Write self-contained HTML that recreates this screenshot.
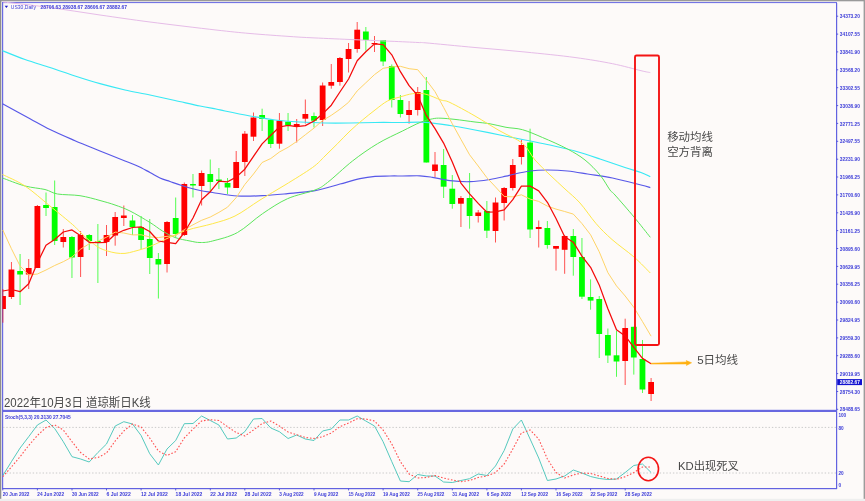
<!DOCTYPE html>
<html><head><meta charset="utf-8"><title>US30 Daily</title>
<style>
html,body{margin:0;padding:0;background:#fdfaf9;}
body{width:865px;height:501px;overflow:hidden;position:relative;}
svg{position:absolute;left:0;top:0;display:block;}
.ax{font-family:"Liberation Sans","DejaVu Sans",sans-serif;font-size:6px;font-weight:bold;fill:#3c3cd8;}
.cn{font-family:"Liberation Sans","Noto Sans CJK SC","WenQuanYi Zen Hei",sans-serif;fill:#484848;}
</style></head><body>
<svg width="865" height="501" viewBox="0 0 865 501">
<rect x="0" y="0" width="865" height="501" fill="#fdfaf9"/>
<!-- outer window edges -->
<rect x="0" y="0" width="865" height="1.3" fill="#9a9a9a"/>
<rect x="0" y="0" width="1.3" height="499" fill="#8e8e8e"/>
<rect x="863.6" y="0" width="1.4" height="499" fill="#9c9c9c"/>
<rect x="0" y="498.8" width="865" height="2.2" fill="#efefef"/>
<!-- chart frame -->
<rect x="2" y="2" width="835" height="1.1" fill="#7474e4"/>
<rect x="2" y="2" width="1.2" height="487" fill="#6a6ae2"/>
<rect x="836" y="3" width="1.2" height="486" fill="#6262e0"/>
<rect x="2" y="409.8" width="835" height="2.2" fill="#6868e0"/>
<rect x="2" y="488" width="835" height="1.2" fill="#6262e0"/>
<!-- stoch levels -->
<line x1="3" x2="836" y1="427.4" y2="427.4" stroke="#cacaca" stroke-width="1" stroke-dasharray="1.4 1.9"/>
<line x1="3" x2="836" y1="473" y2="473" stroke="#cacaca" stroke-width="1" stroke-dasharray="1.4 1.9"/>
<g id="candles">
<line x1="2.9" x2="2.9" y1="289.0" y2="322.7" stroke="#ff0000" stroke-width="0.9" opacity="0.7"/>
<rect x="2.6" y="296.0" width="3.3" height="13.0" fill="#ff0000"/>
<line x1="11.44" x2="11.44" y1="262.0" y2="299.0" stroke="#ff0000" stroke-width="0.9" opacity="0.75"/>
<rect x="8.54" y="269.5" width="5.8" height="27.5" fill="#ff0000"/>
<line x1="20.09" x2="20.09" y1="254.0" y2="305.0" stroke="#00ff00" stroke-width="0.9" opacity="0.75"/>
<rect x="17.19" y="271.0" width="5.8" height="3.5" fill="#00ff00"/>
<line x1="28.73" x2="28.73" y1="259.0" y2="289.0" stroke="#ff0000" stroke-width="0.9" opacity="0.75"/>
<rect x="25.83" y="268.0" width="5.8" height="6.5" fill="#ff0000"/>
<line x1="37.38" x2="37.38" y1="205.0" y2="268.0" stroke="#ff0000" stroke-width="0.9" opacity="0.75"/>
<rect x="34.48" y="206.0" width="5.8" height="62.0" fill="#ff0000"/>
<line x1="46.02" x2="46.02" y1="192.5" y2="216.0" stroke="#00ff00" stroke-width="0.9" opacity="0.75"/>
<rect x="43.12" y="205.0" width="5.8" height="3.0" fill="#00ff00"/>
<line x1="54.66" x2="54.66" y1="180.5" y2="245.0" stroke="#00ff00" stroke-width="0.9" opacity="0.75"/>
<rect x="51.76" y="207.0" width="5.8" height="34.0" fill="#00ff00"/>
<line x1="63.31" x2="63.31" y1="229.0" y2="247.5" stroke="#ff0000" stroke-width="0.9" opacity="0.75"/>
<rect x="60.41" y="237.0" width="5.8" height="5.0" fill="#ff0000"/>
<line x1="71.95" x2="71.95" y1="236.0" y2="278.0" stroke="#00ff00" stroke-width="0.9" opacity="0.75"/>
<rect x="69.05" y="237.0" width="5.8" height="20.5" fill="#00ff00"/>
<line x1="80.60" x2="80.60" y1="231.0" y2="277.0" stroke="#ff0000" stroke-width="0.9" opacity="0.75"/>
<rect x="77.70" y="235.0" width="5.8" height="22.0" fill="#ff0000"/>
<line x1="89.24" x2="89.24" y1="234.0" y2="250.0" stroke="#00ff00" stroke-width="0.9" opacity="0.75"/>
<rect x="86.34" y="235.0" width="5.8" height="6.0" fill="#00ff00"/>
<line x1="97.88" x2="97.88" y1="224.0" y2="283.0" stroke="#00ff00" stroke-width="0.9" opacity="0.75"/>
<rect x="94.98" y="241.0" width="5.8" height="2.0" fill="#00ff00"/>
<line x1="106.53" x2="106.53" y1="225.0" y2="256.0" stroke="#ff0000" stroke-width="0.9" opacity="0.75"/>
<rect x="103.63" y="235.0" width="5.8" height="7.0" fill="#ff0000"/>
<line x1="115.17" x2="115.17" y1="212.0" y2="245.7" stroke="#ff0000" stroke-width="0.9" opacity="0.75"/>
<rect x="112.27" y="217.0" width="5.8" height="18.5" fill="#ff0000"/>
<line x1="123.82" x2="123.82" y1="205.5" y2="226.0" stroke="#ff0000" stroke-width="0.9" opacity="0.75"/>
<rect x="120.92" y="215.5" width="5.8" height="2.5" fill="#ff0000"/>
<line x1="132.46" x2="132.46" y1="215.0" y2="235.0" stroke="#00ff00" stroke-width="0.9" opacity="0.75"/>
<rect x="129.56" y="220.5" width="5.8" height="6.5" fill="#00ff00"/>
<line x1="141.10" x2="141.10" y1="216.0" y2="249.0" stroke="#00ff00" stroke-width="0.9" opacity="0.75"/>
<rect x="138.20" y="227.0" width="5.8" height="13.0" fill="#00ff00"/>
<line x1="149.75" x2="149.75" y1="219.0" y2="274.0" stroke="#00ff00" stroke-width="0.9" opacity="0.75"/>
<rect x="146.85" y="239.0" width="5.8" height="19.0" fill="#00ff00"/>
<line x1="158.39" x2="158.39" y1="253.0" y2="298.5" stroke="#00ff00" stroke-width="0.9" opacity="0.75"/>
<rect x="155.49" y="259.0" width="5.8" height="5.5" fill="#00ff00"/>
<line x1="167.04" x2="167.04" y1="221.0" y2="272.5" stroke="#ff0000" stroke-width="0.9" opacity="0.75"/>
<rect x="164.14" y="222.0" width="5.8" height="42.0" fill="#ff0000"/>
<line x1="175.68" x2="175.68" y1="197.5" y2="237.5" stroke="#00ff00" stroke-width="0.9" opacity="0.75"/>
<rect x="172.78" y="218.0" width="5.8" height="16.0" fill="#00ff00"/>
<line x1="184.32" x2="184.32" y1="182.5" y2="236.0" stroke="#ff0000" stroke-width="0.9" opacity="0.75"/>
<rect x="181.42" y="184.0" width="5.8" height="51.0" fill="#ff0000"/>
<line x1="192.97" x2="192.97" y1="174.0" y2="197.5" stroke="#00ff00" stroke-width="0.9" opacity="0.75"/>
<rect x="190.07" y="184.0" width="5.8" height="1.5" fill="#00ff00"/>
<line x1="201.61" x2="201.61" y1="170.5" y2="205.5" stroke="#ff0000" stroke-width="0.9" opacity="0.75"/>
<rect x="198.71" y="173.0" width="5.8" height="13.0" fill="#ff0000"/>
<line x1="210.26" x2="210.26" y1="159.5" y2="191.0" stroke="#00ff00" stroke-width="0.9" opacity="0.75"/>
<rect x="207.36" y="174.0" width="5.8" height="8.0" fill="#00ff00"/>
<line x1="218.90" x2="218.90" y1="168.0" y2="189.0" stroke="#00ff00" stroke-width="0.9" opacity="0.75"/>
<rect x="216.00" y="179.5" width="5.8" height="1.5" fill="#00ff00"/>
<line x1="227.54" x2="227.54" y1="178.0" y2="194.0" stroke="#00ff00" stroke-width="0.9" opacity="0.75"/>
<rect x="224.64" y="183.0" width="5.8" height="4.5" fill="#00ff00"/>
<line x1="236.19" x2="236.19" y1="151.0" y2="188.0" stroke="#ff0000" stroke-width="0.9" opacity="0.75"/>
<rect x="233.29" y="162.0" width="5.8" height="26.0" fill="#ff0000"/>
<line x1="244.83" x2="244.83" y1="131.0" y2="176.0" stroke="#ff0000" stroke-width="0.9" opacity="0.75"/>
<rect x="241.93" y="133.7" width="5.8" height="28.3" fill="#ff0000"/>
<line x1="253.48" x2="253.48" y1="112.5" y2="141.0" stroke="#ff0000" stroke-width="0.9" opacity="0.75"/>
<rect x="250.58" y="117.5" width="5.8" height="19.2" fill="#ff0000"/>
<line x1="262.12" x2="262.12" y1="108.7" y2="131.0" stroke="#00ff00" stroke-width="0.9" opacity="0.75"/>
<rect x="259.22" y="115.0" width="5.8" height="4.0" fill="#00ff00"/>
<line x1="270.76" x2="270.76" y1="119.0" y2="148.0" stroke="#00ff00" stroke-width="0.9" opacity="0.75"/>
<rect x="267.86" y="120.0" width="5.8" height="24.0" fill="#00ff00"/>
<line x1="279.41" x2="279.41" y1="113.0" y2="148.7" stroke="#ff0000" stroke-width="0.9" opacity="0.75"/>
<rect x="276.51" y="120.7" width="5.8" height="23.0" fill="#ff0000"/>
<line x1="288.05" x2="288.05" y1="113.0" y2="131.0" stroke="#00ff00" stroke-width="0.9" opacity="0.75"/>
<rect x="285.15" y="121.7" width="5.8" height="3.8" fill="#00ff00"/>
<line x1="296.70" x2="296.70" y1="119.0" y2="142.5" stroke="#ff0000" stroke-width="0.9" opacity="0.75"/>
<rect x="293.80" y="124.0" width="5.8" height="2.7" fill="#ff0000"/>
<line x1="305.34" x2="305.34" y1="99.5" y2="123.7" stroke="#ff0000" stroke-width="0.9" opacity="0.75"/>
<rect x="302.44" y="114.0" width="5.8" height="4.7" fill="#ff0000"/>
<line x1="313.98" x2="313.98" y1="112.5" y2="127.5" stroke="#00ff00" stroke-width="0.9" opacity="0.75"/>
<rect x="311.08" y="116.0" width="5.8" height="4.7" fill="#00ff00"/>
<line x1="322.63" x2="322.63" y1="82.5" y2="126.0" stroke="#ff0000" stroke-width="0.9" opacity="0.75"/>
<rect x="319.73" y="85.5" width="5.8" height="34.5" fill="#ff0000"/>
<line x1="331.27" x2="331.27" y1="64.0" y2="88.7" stroke="#ff0000" stroke-width="0.9" opacity="0.75"/>
<rect x="328.37" y="82.0" width="5.8" height="3.7" fill="#ff0000"/>
<line x1="339.92" x2="339.92" y1="57.0" y2="85.7" stroke="#ff0000" stroke-width="0.9" opacity="0.75"/>
<rect x="337.02" y="58.0" width="5.8" height="24.0" fill="#ff0000"/>
<line x1="348.56" x2="348.56" y1="43.0" y2="72.5" stroke="#ff0000" stroke-width="0.9" opacity="0.75"/>
<rect x="345.66" y="49.0" width="5.8" height="10.0" fill="#ff0000"/>
<line x1="357.20" x2="357.20" y1="22.0" y2="52.7" stroke="#ff0000" stroke-width="0.9" opacity="0.75"/>
<rect x="354.30" y="29.7" width="5.8" height="19.3" fill="#ff0000"/>
<line x1="365.85" x2="365.85" y1="27.0" y2="50.6" stroke="#00ff00" stroke-width="0.9" opacity="0.75"/>
<rect x="362.95" y="31.5" width="5.8" height="8.5" fill="#00ff00"/>
<line x1="374.49" x2="374.49" y1="36.0" y2="52.0" stroke="#ff0000" stroke-width="0.9" opacity="0.75"/>
<rect x="371.59" y="43.0" width="5.8" height="1.2" fill="#ff0000"/>
<line x1="383.14" x2="383.14" y1="40.0" y2="66.0" stroke="#00ff00" stroke-width="0.9" opacity="0.75"/>
<rect x="380.24" y="40.0" width="5.8" height="21.5" fill="#00ff00"/>
<line x1="391.78" x2="391.78" y1="64.4" y2="107.5" stroke="#00ff00" stroke-width="0.9" opacity="0.75"/>
<rect x="388.88" y="66.0" width="5.8" height="34.0" fill="#00ff00"/>
<line x1="400.42" x2="400.42" y1="95.0" y2="117.5" stroke="#00ff00" stroke-width="0.9" opacity="0.75"/>
<rect x="397.52" y="100.0" width="5.8" height="14.0" fill="#00ff00"/>
<line x1="409.07" x2="409.07" y1="101.0" y2="123.7" stroke="#ff0000" stroke-width="0.9" opacity="0.75"/>
<rect x="406.17" y="110.0" width="5.8" height="5.0" fill="#ff0000"/>
<line x1="417.71" x2="417.71" y1="87.0" y2="115.5" stroke="#ff0000" stroke-width="0.9" opacity="0.75"/>
<rect x="414.81" y="92.0" width="5.8" height="18.0" fill="#ff0000"/>
<line x1="426.36" x2="426.36" y1="77.0" y2="162.5" stroke="#00ff00" stroke-width="0.9" opacity="0.75"/>
<rect x="423.46" y="90.0" width="5.8" height="72.5" fill="#00ff00"/>
<line x1="435.00" x2="435.00" y1="152.0" y2="177.5" stroke="#ff0000" stroke-width="0.9" opacity="0.75"/>
<rect x="432.10" y="164.5" width="5.8" height="6.5" fill="#ff0000"/>
<line x1="443.64" x2="443.64" y1="149.0" y2="198.0" stroke="#00ff00" stroke-width="0.9" opacity="0.75"/>
<rect x="440.74" y="165.0" width="5.8" height="21.7" fill="#00ff00"/>
<line x1="452.29" x2="452.29" y1="175.0" y2="208.7" stroke="#00ff00" stroke-width="0.9" opacity="0.75"/>
<rect x="449.39" y="188.7" width="5.8" height="15.3" fill="#00ff00"/>
<line x1="460.93" x2="460.93" y1="196.0" y2="227.0" stroke="#ff0000" stroke-width="0.9" opacity="0.75"/>
<rect x="458.03" y="198.0" width="5.8" height="5.7" fill="#ff0000"/>
<line x1="469.58" x2="469.58" y1="173.0" y2="228.7" stroke="#00ff00" stroke-width="0.9" opacity="0.75"/>
<rect x="466.68" y="198.0" width="5.8" height="18.0" fill="#00ff00"/>
<line x1="478.22" x2="478.22" y1="210.0" y2="222.5" stroke="#ff0000" stroke-width="0.9" opacity="0.75"/>
<rect x="475.32" y="212.5" width="5.8" height="3.5" fill="#ff0000"/>
<line x1="486.86" x2="486.86" y1="201.0" y2="238.0" stroke="#00ff00" stroke-width="0.9" opacity="0.75"/>
<rect x="483.96" y="211.0" width="5.8" height="19.7" fill="#00ff00"/>
<line x1="495.51" x2="495.51" y1="197.5" y2="242.5" stroke="#ff0000" stroke-width="0.9" opacity="0.75"/>
<rect x="492.61" y="202.5" width="5.8" height="28.5" fill="#ff0000"/>
<line x1="504.15" x2="504.15" y1="187.0" y2="220.5" stroke="#ff0000" stroke-width="0.9" opacity="0.75"/>
<rect x="501.25" y="188.0" width="5.8" height="15.0" fill="#ff0000"/>
<line x1="512.80" x2="512.80" y1="159.0" y2="190.5" stroke="#ff0000" stroke-width="0.9" opacity="0.75"/>
<rect x="509.90" y="165.0" width="5.8" height="23.0" fill="#ff0000"/>
<line x1="521.44" x2="521.44" y1="139.5" y2="164.5" stroke="#ff0000" stroke-width="0.9" opacity="0.75"/>
<rect x="518.54" y="145.0" width="5.8" height="12.0" fill="#ff0000"/>
<line x1="530.08" x2="530.08" y1="128.7" y2="238.0" stroke="#00ff00" stroke-width="0.9" opacity="0.75"/>
<rect x="527.18" y="142.5" width="5.8" height="87.0" fill="#00ff00"/>
<line x1="538.73" x2="538.73" y1="220.5" y2="247.5" stroke="#ff0000" stroke-width="0.9" opacity="0.75"/>
<rect x="535.83" y="227.0" width="5.8" height="2.0" fill="#ff0000"/>
<line x1="547.37" x2="547.37" y1="221.0" y2="248.7" stroke="#00ff00" stroke-width="0.9" opacity="0.75"/>
<rect x="544.47" y="228.0" width="5.8" height="17.0" fill="#00ff00"/>
<line x1="556.02" x2="556.02" y1="246.0" y2="270.6" stroke="#ff0000" stroke-width="0.9" opacity="0.75"/>
<rect x="553.12" y="246.0" width="5.8" height="2.7" fill="#ff0000"/>
<line x1="564.66" x2="564.66" y1="235.0" y2="273.8" stroke="#ff0000" stroke-width="0.9" opacity="0.75"/>
<rect x="561.76" y="236.0" width="5.8" height="13.8" fill="#ff0000"/>
<line x1="573.30" x2="573.30" y1="229.0" y2="275.7" stroke="#00ff00" stroke-width="0.9" opacity="0.75"/>
<rect x="570.40" y="236.0" width="5.8" height="21.0" fill="#00ff00"/>
<line x1="581.95" x2="581.95" y1="238.0" y2="299.0" stroke="#00ff00" stroke-width="0.9" opacity="0.75"/>
<rect x="579.05" y="257.0" width="5.8" height="39.7" fill="#00ff00"/>
<line x1="590.59" x2="590.59" y1="279.4" y2="309.7" stroke="#00ff00" stroke-width="0.9" opacity="0.75"/>
<rect x="587.69" y="297.0" width="5.8" height="3.6" fill="#00ff00"/>
<line x1="599.24" x2="599.24" y1="296.0" y2="358.0" stroke="#00ff00" stroke-width="0.9" opacity="0.75"/>
<rect x="596.34" y="299.0" width="5.8" height="35.0" fill="#00ff00"/>
<line x1="607.88" x2="607.88" y1="328.5" y2="363.0" stroke="#00ff00" stroke-width="0.9" opacity="0.75"/>
<rect x="604.98" y="335.0" width="5.8" height="20.5" fill="#00ff00"/>
<line x1="616.52" x2="616.52" y1="330.7" y2="376.8" stroke="#00ff00" stroke-width="0.9" opacity="0.75"/>
<rect x="613.62" y="355.3" width="5.8" height="6.2" fill="#00ff00"/>
<line x1="625.17" x2="625.17" y1="318.7" y2="385.0" stroke="#ff0000" stroke-width="0.9" opacity="0.75"/>
<rect x="622.27" y="328.0" width="5.8" height="33.0" fill="#ff0000"/>
<line x1="633.81" x2="633.81" y1="326.8" y2="374.6" stroke="#00ff00" stroke-width="0.9" opacity="0.75"/>
<rect x="630.91" y="326.8" width="5.8" height="30.7" fill="#00ff00"/>
<line x1="642.46" x2="642.46" y1="340.0" y2="393.0" stroke="#00ff00" stroke-width="0.9" opacity="0.75"/>
<rect x="639.56" y="359.0" width="5.8" height="30.5" fill="#00ff00"/>
<line x1="651.10" x2="651.10" y1="378.0" y2="401.0" stroke="#ff0000" stroke-width="0.9" opacity="0.75"/>
<rect x="648.20" y="382.0" width="5.8" height="12.0" fill="#ff0000"/>
</g>
<g id="ma">
<path d="M3.0 2.0 C10.8 2.9 33.8 5.3 50.0 7.5 C66.2 9.7 83.3 12.6 100.0 15.0 C116.7 17.4 130.7 19.5 150.0 22.0 C169.3 24.5 199.3 28.1 216.0 30.0 C232.7 31.9 237.7 32.4 250.0 33.5 C262.3 34.6 280.0 35.8 290.0 36.5 C300.0 37.2 300.0 37.2 310.0 37.7 C320.0 38.2 336.7 38.9 350.0 39.5 C363.3 40.1 378.7 40.7 390.0 41.2 C401.3 41.7 412.2 42.2 418.0 42.5 C423.8 42.8 415.5 42.0 425.0 42.8 C434.5 43.6 458.3 46.0 475.0 47.5 C491.7 49.0 508.3 50.3 525.0 52.0 C541.7 53.7 560.4 55.5 575.0 57.5 C589.6 59.5 601.5 61.5 612.5 63.7 C623.5 65.9 634.7 69.2 641.0 70.7 C647.3 72.2 648.8 72.3 650.3 72.6" fill="none" stroke="#e6bce8" stroke-width="1" stroke-linejoin="round"/>
<path d="M2.5 50.7 C6.2 52.2 17.1 56.7 25.0 59.5 C32.9 62.3 41.7 64.8 50.0 67.5 C58.3 70.2 66.7 73.3 75.0 76.0 C83.3 78.7 91.7 81.4 100.0 83.7 C108.3 86.0 116.7 88.1 125.0 90.0 C133.3 91.9 141.7 93.2 150.0 95.0 C158.3 96.8 166.7 98.7 175.0 100.5 C183.3 102.3 193.2 104.6 200.0 106.0 C206.8 107.4 211.8 108.2 216.0 109.0 C220.2 109.8 219.3 109.8 225.0 111.0 C230.7 112.2 241.7 114.5 250.0 116.0 C258.3 117.5 266.7 119.0 275.0 120.0 C283.3 121.0 291.7 121.5 300.0 122.0 C308.3 122.5 316.7 122.8 325.0 123.0 C333.3 123.2 341.7 123.1 350.0 123.0 C358.3 122.9 366.7 122.6 375.0 122.5 C383.3 122.4 391.7 122.5 400.0 122.5 C408.3 122.5 416.7 121.8 425.0 122.3 C433.3 122.8 441.7 124.2 450.0 125.5 C458.3 126.8 466.7 128.4 475.0 130.0 C483.3 131.6 491.7 133.3 500.0 135.0 C508.3 136.7 516.7 138.3 525.0 140.0 C533.3 141.7 541.7 143.2 550.0 145.0 C558.3 146.8 566.7 148.7 575.0 151.0 C583.3 153.3 591.7 156.2 600.0 159.0 C608.3 161.8 618.2 165.2 625.0 167.5 C631.8 169.8 636.8 171.0 641.0 172.5 C645.2 174.0 648.8 176.0 650.3 176.7" fill="none" stroke="#38e8f4" stroke-width="1.2" stroke-linejoin="round"/>
<path d="M2.5 103.7 C7.1 106.2 22.1 114.4 30.0 118.7 C37.9 123.0 42.5 125.8 50.0 129.5 C57.5 133.2 66.7 137.1 75.0 140.7 C83.3 144.3 91.7 147.6 100.0 151.0 C108.3 154.4 118.8 158.5 125.0 161.0 C131.2 163.5 133.3 164.1 137.5 166.0 C141.7 167.9 146.2 170.5 150.0 172.5 C153.8 174.5 156.7 176.5 160.0 178.0 C163.3 179.5 166.2 180.2 170.0 181.5 C173.8 182.8 177.5 184.2 182.5 185.7 C187.5 187.2 195.0 189.4 200.0 190.5 C205.0 191.6 206.2 191.6 212.5 192.5 C218.8 193.4 229.2 195.5 237.5 196.0 C245.8 196.5 254.2 196.1 262.5 195.7 C270.8 195.3 278.8 194.5 287.5 193.7 C296.2 192.9 306.2 192.3 315.0 190.7 C323.8 189.1 332.5 186.0 340.0 184.0 C347.5 182.0 354.2 180.0 360.0 178.7 C365.8 177.4 370.0 176.8 375.0 176.3 C380.0 175.9 385.4 176.1 390.0 176.0 C394.6 175.9 397.5 176.0 402.5 176.0 C407.5 176.0 415.0 175.6 420.0 175.8 C425.0 176.0 427.5 176.5 432.5 177.3 C437.5 178.1 443.8 180.0 450.0 180.7 C456.2 181.4 463.3 181.9 470.0 181.7 C476.7 181.5 484.0 180.4 490.0 179.5 C496.0 178.6 502.2 177.0 506.0 176.2 C509.8 175.4 508.5 175.4 512.5 174.5 C516.5 173.6 524.2 171.8 530.0 171.0 C535.8 170.2 541.2 170.0 547.5 170.0 C553.8 170.0 560.8 170.3 567.5 171.0 C574.2 171.7 580.0 172.8 587.5 174.0 C595.0 175.2 603.6 176.2 612.5 178.0 C621.4 179.8 634.7 183.4 641.0 185.0 C647.3 186.6 648.8 187.2 650.3 187.6" fill="none" stroke="#5858e8" stroke-width="1.2" stroke-linejoin="round"/>
<path d="M2.5 178.0 C6.2 179.3 17.9 184.1 25.0 186.0 C32.1 187.9 39.6 188.2 45.0 189.5 C50.4 190.8 51.7 193.0 57.5 194.0 C63.3 195.0 72.9 194.6 80.0 195.7 C87.1 196.8 94.2 198.9 100.0 200.5 C105.8 202.1 110.0 203.2 115.0 205.0 C120.0 206.8 124.2 208.1 130.0 211.0 C135.8 213.9 144.6 219.2 150.0 222.5 C155.4 225.8 158.3 228.5 162.5 231.0 C166.7 233.5 170.4 235.8 175.0 237.5 C179.6 239.2 185.8 240.2 190.0 241.0 C194.2 241.8 196.2 242.5 200.0 242.5 C203.8 242.5 206.2 242.7 212.5 241.0 C218.8 239.3 229.2 237.1 237.5 232.5 C245.8 227.9 254.2 219.3 262.5 213.7 C270.8 208.1 278.8 202.6 287.5 198.7 C296.2 194.8 308.3 192.7 315.0 190.0 C321.7 187.3 321.2 187.3 327.5 182.5 C333.8 177.7 344.2 167.5 352.5 161.0 C360.8 154.5 369.2 148.7 377.5 143.7 C385.8 138.7 395.4 134.5 402.5 131.0 C409.6 127.5 415.0 124.5 420.0 122.5 C425.0 120.5 429.0 119.5 432.5 118.8 C436.0 118.1 437.2 118.1 441.0 118.2 C444.8 118.3 449.3 118.8 455.0 119.4 C460.7 120.0 469.2 121.3 475.0 122.0 C480.8 122.7 484.8 122.9 490.0 123.8 C495.2 124.7 500.6 126.3 506.0 127.3 C511.4 128.3 516.4 128.0 522.5 129.7 C528.6 131.4 535.0 134.3 542.5 137.5 C550.0 140.7 560.4 145.2 567.5 149.0 C574.6 152.8 579.6 155.7 585.0 160.0 C590.4 164.3 595.8 170.0 600.0 175.0 C604.2 180.0 607.5 186.7 610.0 190.0 C612.5 193.3 611.0 190.5 615.0 195.0 C619.0 199.5 628.1 209.9 634.0 217.0 C639.9 224.1 647.6 233.9 650.3 237.3" fill="none" stroke="#5ce65c" stroke-width="1" stroke-linejoin="round"/>
<path d="M2.5 174.5 C6.2 176.4 17.1 180.8 25.0 186.0 C32.9 191.2 42.1 199.6 50.0 206.0 C57.9 212.4 67.3 220.0 72.5 224.5 C77.7 229.0 78.1 230.2 81.0 233.0 C83.9 235.8 87.0 238.6 90.0 241.0 C93.0 243.4 95.8 245.8 98.7 247.5 C101.6 249.2 104.6 250.1 107.5 251.0 C110.4 251.9 113.1 252.6 116.0 253.0 C118.9 253.4 122.0 253.7 125.0 253.4 C128.0 253.2 130.8 252.2 133.7 251.5 C136.6 250.8 139.6 249.9 142.5 249.0 C145.4 248.1 148.1 247.2 151.0 246.0 C153.9 244.8 157.1 243.4 160.0 242.0 C162.9 240.6 164.1 239.8 168.7 237.8 C173.3 235.8 180.2 232.3 187.5 230.0 C194.8 227.7 204.6 226.0 212.5 223.7 C220.4 221.4 227.1 219.9 235.0 216.0 C242.9 212.1 251.7 205.2 260.0 200.0 C268.3 194.8 276.2 190.4 285.0 185.0 C293.8 179.6 305.8 172.3 312.5 167.5 C319.2 162.7 320.8 160.0 325.0 156.0 C329.2 152.0 333.3 147.9 337.5 143.7 C341.7 139.5 345.8 134.9 350.0 131.0 C354.2 127.0 358.3 123.5 362.5 120.0 C366.7 116.5 370.8 113.2 375.0 110.0 C379.2 106.8 383.3 103.2 387.5 101.0 C391.7 98.8 395.8 98.2 400.0 97.0 C404.2 95.8 408.3 94.2 412.5 93.7 C416.7 93.2 420.2 93.0 425.0 94.0 C429.8 95.0 436.8 98.6 441.0 100.0 C445.2 101.4 444.3 99.8 450.0 102.5 C455.7 105.2 466.7 111.2 475.0 116.0 C483.3 120.8 492.1 126.5 500.0 131.0 C507.9 135.6 516.7 138.5 522.5 143.3 C528.3 148.1 530.4 154.7 535.0 160.0 C539.6 165.3 545.0 170.2 550.0 175.0 C555.0 179.8 560.0 184.3 565.0 189.0 C570.0 193.7 574.8 197.2 580.0 203.0 C585.2 208.8 590.7 217.4 596.0 223.5 C601.3 229.6 605.7 233.9 612.0 239.5 C618.3 245.1 627.6 251.4 634.0 257.0 C640.4 262.6 647.6 270.3 650.3 273.0" fill="none" stroke="#ffe84a" stroke-width="1" stroke-linejoin="round"/>
<polyline points="2.8,230.0 11.4,248.7 20.1,266.0 28.7,275.0 37.4,274.0 46.0,270.0 54.7,265.5 63.3,261.7 72.0,257.0 80.6,249.2 89.2,243.8 97.9,241.1 106.5,237.2 115.2,232.1 123.8,233.0 132.5,234.9 141.1,234.8 149.7,236.9 158.4,237.6 167.0,236.3 175.7,235.6 184.3,229.7 193.0,224.8 201.6,220.3 210.3,217.0 218.9,212.4 227.5,207.2 236.2,197.6 244.8,184.5 253.5,174.0 262.1,162.5 270.8,158.5 279.4,152.0 288.1,147.3 296.7,141.5 305.3,134.8 314.0,128.1 322.6,120.5 331.3,115.3 339.9,109.3 348.6,102.3 357.2,90.9 365.8,82.8 374.5,74.6 383.1,68.3 391.8,66.9 400.4,66.3 409.1,68.7 417.7,69.7 426.4,80.2 435.0,91.7 443.6,107.4 452.3,123.8 460.9,139.3 469.6,154.8 478.2,166.0 486.9,177.7 495.5,186.9 504.2,196.5 512.8,196.8 521.4,194.8 530.1,199.1 538.7,201.4 547.4,206.1 556.0,209.1 564.7,211.5 573.3,214.1 581.9,223.5 590.6,234.8 599.2,251.7 607.9,272.7 616.5,285.9 625.2,296.0 633.8,307.3 642.5,321.6 651.1,336.2" fill="none" stroke="#ffd468" stroke-width="1" stroke-linejoin="round" />
<polyline points="2.8,291.0 11.4,289.5 20.1,291.7 28.7,283.7 37.4,262.8 46.0,245.2 54.7,239.5 63.3,232.0 72.0,229.9 80.6,235.7 89.2,242.3 97.9,242.7 106.5,242.3 115.2,234.2 123.8,230.3 132.5,227.5 141.1,226.9 149.7,231.5 158.4,241.0 167.0,242.3 175.7,243.7 184.3,232.5 193.0,218.0 201.6,199.7 210.3,191.7 218.9,181.1 227.5,181.8 236.2,177.1 244.8,169.2 253.5,156.3 262.1,143.9 270.8,135.2 279.4,127.0 288.1,125.3 296.7,126.6 305.3,125.6 314.0,121.0 322.6,113.9 331.3,105.2 339.9,92.0 348.6,79.0 357.2,60.8 365.8,51.7 374.5,43.9 383.1,44.6 391.8,54.8 400.4,71.7 409.1,85.7 417.7,95.5 426.4,115.7 435.0,128.6 443.6,143.1 452.3,161.9 460.9,183.1 469.6,193.8 478.2,203.4 486.9,212.2 495.5,211.9 504.2,209.9 512.8,199.7 521.4,186.2 530.1,186.0 538.7,190.9 547.4,202.3 556.0,218.5 564.7,236.7 573.3,242.2 581.9,256.1 590.6,267.3 599.2,284.9 607.9,308.8 616.5,329.7 625.2,335.9 633.8,347.3 642.5,358.4 651.1,363.7" fill="none" stroke="#f40a0a" stroke-width="1.25" stroke-linejoin="round" />
</g>
<g id="stoch">
<polyline points="2.8,475.5 11.4,461.7 20.1,448.0 28.7,436.7 37.4,425.0 46.0,420.0 54.7,428.5 63.3,441.7 72.0,456.7 80.6,459.0 89.2,462.0 97.9,452.5 106.5,444.0 115.2,426.0 123.8,421.7 132.5,424.0 141.1,435.5 149.7,453.7 158.4,465.0 167.0,449.0 175.7,440.5 184.3,423.7 193.0,423.5 201.6,416.0 210.3,420.5 218.9,425.0 227.5,439.0 236.2,438.0 244.8,431.7 253.5,419.0 262.1,418.5 270.8,428.0 279.4,431.7 288.1,438.5 296.7,435.0 305.3,439.0 314.0,440.5 322.6,431.0 331.3,429.0 339.9,420.0 348.6,420.0 357.2,416.0 365.8,421.0 374.5,426.0 383.1,441.7 391.8,461.7 400.4,481.0 409.1,481.7 417.7,474.5 426.4,476.0 435.0,476.0 443.6,482.0 452.3,482.5 460.9,480.5 469.6,478.7 478.2,474.0 486.9,475.5 495.5,466.0 504.2,450.5 512.8,429.0 521.4,420.0 530.1,439.0 538.7,458.0 547.4,480.5 556.0,479.0 564.7,476.0 573.3,470.0 581.9,473.0 590.6,476.5 599.2,478.5 607.9,479.5 616.5,479.0 625.2,472.5 633.8,465.5 642.5,464.0 651.1,472.5" fill="none" stroke="#4cc6ba" stroke-width="0.95" stroke-linejoin="round" />
<polyline points="2.8,476.7 11.4,467.0 20.1,456.7 28.7,445.5 37.4,435.5 46.0,427.5 54.7,425.0 63.3,430.0 72.0,441.7 80.6,452.5 89.2,459.0 97.9,457.5 106.5,453.0 115.2,441.0 123.8,431.0 132.5,424.0 141.1,427.0 149.7,438.0 158.4,451.0 167.0,455.5 175.7,451.7 184.3,438.0 193.0,429.0 201.6,421.0 210.3,419.7 218.9,420.5 227.5,426.7 236.2,432.5 244.8,436.0 253.5,430.0 262.1,423.5 270.8,421.0 279.4,426.0 288.1,432.0 296.7,434.7 305.3,437.5 314.0,438.5 322.6,436.7 331.3,433.0 339.9,426.7 348.6,423.0 357.2,418.7 365.8,419.0 374.5,421.0 383.1,430.0 391.8,444.0 400.4,461.7 409.1,474.0 417.7,478.0 426.4,477.5 435.0,475.5 443.6,478.0 452.3,480.0 460.9,481.7 469.6,480.5 478.2,477.5 486.9,476.0 495.5,472.5 504.2,464.0 512.8,449.0 521.4,433.0 530.1,430.0 538.7,439.0 547.4,459.0 556.0,472.5 564.7,478.0 573.3,475.0 581.9,473.0 590.6,473.5 599.2,476.0 607.9,478.5 616.5,479.3 625.2,476.7 633.8,472.5 642.5,467.0 651.1,467.0" fill="none" stroke="#ff5050" stroke-width="1.1" stroke-linejoin="round" stroke-dasharray="1.6 1.8"/>
</g>
<g id="price-axis">
<line x1="836" x2="838.2" y1="16.2" y2="16.2" stroke="#5a5ae0" stroke-width="1"/>
<text x="839.8" y="18.3" class="ax" textLength="20.2" lengthAdjust="spacingAndGlyphs">34373.20</text>
<line x1="836" x2="838.2" y1="34.1" y2="34.1" stroke="#5a5ae0" stroke-width="1"/>
<text x="839.8" y="36.2" class="ax" textLength="20.2" lengthAdjust="spacingAndGlyphs">34107.55</text>
<line x1="836" x2="838.2" y1="51.9" y2="51.9" stroke="#5a5ae0" stroke-width="1"/>
<text x="839.8" y="54.0" class="ax" textLength="20.2" lengthAdjust="spacingAndGlyphs">33841.90</text>
<line x1="836" x2="838.2" y1="69.8" y2="69.8" stroke="#5a5ae0" stroke-width="1"/>
<text x="839.8" y="71.9" class="ax" textLength="20.2" lengthAdjust="spacingAndGlyphs">33568.20</text>
<line x1="836" x2="838.2" y1="87.7" y2="87.7" stroke="#5a5ae0" stroke-width="1"/>
<text x="839.8" y="89.8" class="ax" textLength="20.2" lengthAdjust="spacingAndGlyphs">33302.55</text>
<line x1="836" x2="838.2" y1="105.6" y2="105.6" stroke="#5a5ae0" stroke-width="1"/>
<text x="839.8" y="107.7" class="ax" textLength="20.2" lengthAdjust="spacingAndGlyphs">33036.90</text>
<line x1="836" x2="838.2" y1="123.4" y2="123.4" stroke="#5a5ae0" stroke-width="1"/>
<text x="839.8" y="125.5" class="ax" textLength="20.2" lengthAdjust="spacingAndGlyphs">32771.25</text>
<line x1="836" x2="838.2" y1="141.3" y2="141.3" stroke="#5a5ae0" stroke-width="1"/>
<text x="839.8" y="143.4" class="ax" textLength="20.2" lengthAdjust="spacingAndGlyphs">32497.55</text>
<line x1="836" x2="838.2" y1="159.2" y2="159.2" stroke="#5a5ae0" stroke-width="1"/>
<text x="839.8" y="161.3" class="ax" textLength="20.2" lengthAdjust="spacingAndGlyphs">32231.90</text>
<line x1="836" x2="838.2" y1="177.0" y2="177.0" stroke="#5a5ae0" stroke-width="1"/>
<text x="839.8" y="179.1" class="ax" textLength="20.2" lengthAdjust="spacingAndGlyphs">31966.25</text>
<line x1="836" x2="838.2" y1="194.9" y2="194.9" stroke="#5a5ae0" stroke-width="1"/>
<text x="839.8" y="197.0" class="ax" textLength="20.2" lengthAdjust="spacingAndGlyphs">31700.60</text>
<line x1="836" x2="838.2" y1="212.8" y2="212.8" stroke="#5a5ae0" stroke-width="1"/>
<text x="839.8" y="214.9" class="ax" textLength="20.2" lengthAdjust="spacingAndGlyphs">31426.90</text>
<line x1="836" x2="838.2" y1="230.6" y2="230.6" stroke="#5a5ae0" stroke-width="1"/>
<text x="839.8" y="232.7" class="ax" textLength="20.2" lengthAdjust="spacingAndGlyphs">31161.25</text>
<line x1="836" x2="838.2" y1="248.5" y2="248.5" stroke="#5a5ae0" stroke-width="1"/>
<text x="839.8" y="250.6" class="ax" textLength="20.2" lengthAdjust="spacingAndGlyphs">30895.60</text>
<line x1="836" x2="838.2" y1="266.4" y2="266.4" stroke="#5a5ae0" stroke-width="1"/>
<text x="839.8" y="268.5" class="ax" textLength="20.2" lengthAdjust="spacingAndGlyphs">30629.95</text>
<line x1="836" x2="838.2" y1="284.2" y2="284.2" stroke="#5a5ae0" stroke-width="1"/>
<text x="839.8" y="286.4" class="ax" textLength="20.2" lengthAdjust="spacingAndGlyphs">30356.25</text>
<line x1="836" x2="838.2" y1="302.1" y2="302.1" stroke="#5a5ae0" stroke-width="1"/>
<text x="839.8" y="304.2" class="ax" textLength="20.2" lengthAdjust="spacingAndGlyphs">30090.60</text>
<line x1="836" x2="838.2" y1="320.0" y2="320.0" stroke="#5a5ae0" stroke-width="1"/>
<text x="839.8" y="322.1" class="ax" textLength="20.2" lengthAdjust="spacingAndGlyphs">29824.95</text>
<line x1="836" x2="838.2" y1="337.9" y2="337.9" stroke="#5a5ae0" stroke-width="1"/>
<text x="839.8" y="340.0" class="ax" textLength="20.2" lengthAdjust="spacingAndGlyphs">29559.30</text>
<line x1="836" x2="838.2" y1="355.7" y2="355.7" stroke="#5a5ae0" stroke-width="1"/>
<text x="839.8" y="357.8" class="ax" textLength="20.2" lengthAdjust="spacingAndGlyphs">29285.60</text>
<line x1="836" x2="838.2" y1="373.6" y2="373.6" stroke="#5a5ae0" stroke-width="1"/>
<text x="839.8" y="375.7" class="ax" textLength="20.2" lengthAdjust="spacingAndGlyphs">29019.95</text>
<line x1="836" x2="838.2" y1="391.5" y2="391.5" stroke="#5a5ae0" stroke-width="1"/>
<text x="839.8" y="393.6" class="ax" textLength="20.2" lengthAdjust="spacingAndGlyphs">28754.30</text>
<line x1="836" x2="838.2" y1="409.3" y2="409.3" stroke="#5a5ae0" stroke-width="1"/>
<text x="839.8" y="411.4" class="ax" textLength="20.2" lengthAdjust="spacingAndGlyphs">28488.65</text>
<text x="838.4" y="417.4" class="ax" textLength="7.8" lengthAdjust="spacingAndGlyphs">100</text>
<text x="838.4" y="429.6" class="ax" textLength="5.2" lengthAdjust="spacingAndGlyphs">80</text>
<text x="838.4" y="475.1" class="ax" textLength="5.2" lengthAdjust="spacingAndGlyphs">20</text>
<text x="838.4" y="487.1" class="ax" textLength="2.6" lengthAdjust="spacingAndGlyphs">0</text>
<rect x="837.2" y="379.1" width="24.8" height="6" fill="#1212d0"/>
<text x="839.8" y="384.1" class="ax" style="fill:#ffffff" textLength="20" lengthAdjust="spacingAndGlyphs">28882.67</text>
</g>
<g id="date-axis">
<line x1="2.8" x2="2.8" y1="488" y2="490.4" stroke="#5a5ae0" stroke-width="1"/>
<text x="2.7" y="496.3" class="ax" textLength="26.8" lengthAdjust="spacingAndGlyphs">20 Jun 2022</text>
<line x1="37.4" x2="37.4" y1="488" y2="490.4" stroke="#5a5ae0" stroke-width="1"/>
<text x="37.3" y="496.3" class="ax" textLength="26.8" lengthAdjust="spacingAndGlyphs">24 Jun 2022</text>
<line x1="72.0" x2="72.0" y1="488" y2="490.4" stroke="#5a5ae0" stroke-width="1"/>
<text x="71.9" y="496.3" class="ax" textLength="26.8" lengthAdjust="spacingAndGlyphs">30 Jun 2022</text>
<line x1="106.5" x2="106.5" y1="488" y2="490.4" stroke="#5a5ae0" stroke-width="1"/>
<text x="106.4" y="496.3" class="ax" textLength="24.4" lengthAdjust="spacingAndGlyphs">6 Jul 2022</text>
<line x1="141.1" x2="141.1" y1="488" y2="490.4" stroke="#5a5ae0" stroke-width="1"/>
<text x="141.0" y="496.3" class="ax" textLength="26.8" lengthAdjust="spacingAndGlyphs">12 Jul 2022</text>
<line x1="175.7" x2="175.7" y1="488" y2="490.4" stroke="#5a5ae0" stroke-width="1"/>
<text x="175.6" y="496.3" class="ax" textLength="26.8" lengthAdjust="spacingAndGlyphs">18 Jul 2022</text>
<line x1="210.3" x2="210.3" y1="488" y2="490.4" stroke="#5a5ae0" stroke-width="1"/>
<text x="210.2" y="496.3" class="ax" textLength="26.8" lengthAdjust="spacingAndGlyphs">22 Jul 2022</text>
<line x1="244.8" x2="244.8" y1="488" y2="490.4" stroke="#5a5ae0" stroke-width="1"/>
<text x="244.7" y="496.3" class="ax" textLength="26.8" lengthAdjust="spacingAndGlyphs">28 Jul 2022</text>
<line x1="279.4" x2="279.4" y1="488" y2="490.4" stroke="#5a5ae0" stroke-width="1"/>
<text x="279.3" y="496.3" class="ax" textLength="24.4" lengthAdjust="spacingAndGlyphs">3 Aug 2022</text>
<line x1="314.0" x2="314.0" y1="488" y2="490.4" stroke="#5a5ae0" stroke-width="1"/>
<text x="313.9" y="496.3" class="ax" textLength="24.4" lengthAdjust="spacingAndGlyphs">9 Aug 2022</text>
<line x1="348.6" x2="348.6" y1="488" y2="490.4" stroke="#5a5ae0" stroke-width="1"/>
<text x="348.5" y="496.3" class="ax" textLength="26.8" lengthAdjust="spacingAndGlyphs">15 Aug 2022</text>
<line x1="383.1" x2="383.1" y1="488" y2="490.4" stroke="#5a5ae0" stroke-width="1"/>
<text x="383.0" y="496.3" class="ax" textLength="26.8" lengthAdjust="spacingAndGlyphs">19 Aug 2022</text>
<line x1="417.7" x2="417.7" y1="488" y2="490.4" stroke="#5a5ae0" stroke-width="1"/>
<text x="417.6" y="496.3" class="ax" textLength="26.8" lengthAdjust="spacingAndGlyphs">25 Aug 2022</text>
<line x1="452.3" x2="452.3" y1="488" y2="490.4" stroke="#5a5ae0" stroke-width="1"/>
<text x="452.2" y="496.3" class="ax" textLength="26.8" lengthAdjust="spacingAndGlyphs">31 Aug 2022</text>
<line x1="486.9" x2="486.9" y1="488" y2="490.4" stroke="#5a5ae0" stroke-width="1"/>
<text x="486.8" y="496.3" class="ax" textLength="24.4" lengthAdjust="spacingAndGlyphs">6 Sep 2022</text>
<line x1="521.4" x2="521.4" y1="488" y2="490.4" stroke="#5a5ae0" stroke-width="1"/>
<text x="521.3" y="496.3" class="ax" textLength="26.8" lengthAdjust="spacingAndGlyphs">12 Sep 2022</text>
<line x1="556.0" x2="556.0" y1="488" y2="490.4" stroke="#5a5ae0" stroke-width="1"/>
<text x="555.9" y="496.3" class="ax" textLength="26.8" lengthAdjust="spacingAndGlyphs">16 Sep 2022</text>
<line x1="590.6" x2="590.6" y1="488" y2="490.4" stroke="#5a5ae0" stroke-width="1"/>
<text x="590.5" y="496.3" class="ax" textLength="26.8" lengthAdjust="spacingAndGlyphs">22 Sep 2022</text>
<line x1="625.2" x2="625.2" y1="488" y2="490.4" stroke="#5a5ae0" stroke-width="1"/>
<text x="625.1" y="496.3" class="ax" textLength="26.8" lengthAdjust="spacingAndGlyphs">28 Sep 2022</text>
</g>
<!-- header -->
<path d="M4.7 5.8 L8.1 5.8 L6.4 8 Z" fill="#1c1cc8"/>
<text x="10.8" y="8.8" class="ax" style="font-weight:normal" textLength="25.2" lengthAdjust="spacingAndGlyphs">US30,Daily</text>
<text x="40.5" y="8.8" class="ax" textLength="86.5" lengthAdjust="spacingAndGlyphs">28706.63 28938.67 28606.67 28882.67</text>
<text x="5" y="419.3" class="ax" textLength="65.7" lengthAdjust="spacingAndGlyphs">Stoch(5,3,3) 20.3130 27.7045</text>
<!-- annotations -->
<rect x="635" y="55.5" width="24" height="289.5" rx="1.5" ry="1.5" fill="none" stroke="#f41414" stroke-width="1.9"/>
<path d="M651 363.2 L686.6 361.9 L686.2 360.5 L691.6 362.8 L686.4 365.5 L686.6 364 L651 364.1 Z" fill="#ffb010" stroke="#ffb010" stroke-width="0.5" stroke-linejoin="round"/>
<ellipse cx="648.3" cy="469" rx="10.2" ry="11.7" fill="none" stroke="#f41414" stroke-width="1.6"/>
<text x="667.2" y="140.7" class="cn" style="font-size:11.45px">移动均线</text>
<text x="667.2" y="155.9" class="cn" style="font-size:11.45px">空方背离</text>
<text x="697.2" y="364.2" class="cn" style="font-size:11.5px">5日均线</text>
<text x="678" y="469.8" class="cn" style="font-size:11.3px">KD出现死叉</text>
<text x="4" y="407.3" class="cn" style="font-size:12px" textLength="146.8" lengthAdjust="spacingAndGlyphs">2022年10月3日 道琼斯日K线</text>
</svg>
</body></html>
